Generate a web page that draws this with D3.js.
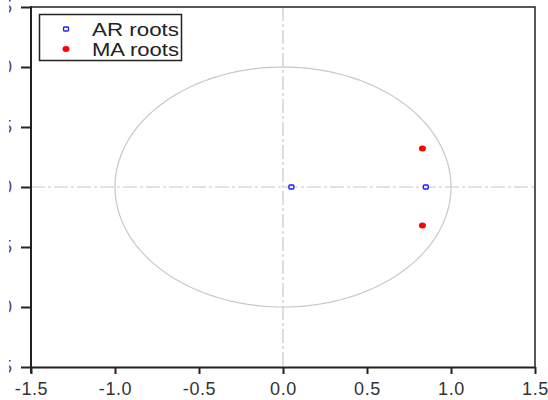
<!DOCTYPE html>
<html>
<head>
<meta charset="utf-8">
<script src="https://cdn.jsdelivr.net/npm/d3@7"></script>
<style>
  body { margin: 0; background: #fff; }
  svg { display: block; font-family: "Liberation Sans", Arial, sans-serif; }
</style>
</head>
<body>
<div id="chart"></div>
<script>
// roots
var arRe = [0.05, 0.85],
    arIm = [0.0, 0.0];
var maRe = [0.83, 0.83],
    maIm = [0.32, -0.32];
var xTicks = [-1.5, -1.0, -0.5, 0.0, 0.5, 1.0, 1.5],
    yTicks = [-1.5, -1.0, -0.5, 0.0, 0.5, 1.0, 1.5];
var legendLabels = ["AR roots", "MA roots"];

var width = 548, height = 400;
var margin = {top: 7, right: 13, bottom: 33, left: 31};

var svg = d3.select("#chart").append("svg")
    .attr("width", width)
    .attr("height", height);

var x = d3.scaleLinear().domain([-1.5, 1.5]).range([margin.left, width - margin.right]);
var y = d3.scaleLinear().domain([-1.5, 1.5]).range([height - margin.bottom, margin.top]);

// the y labels sit mostly off the left edge, only a sliver shows
svg.append("clipPath")
    .attr("id", "yclip")
    .append("rect")
    .attr("x", 9).attr("y", 0)
    .attr("width", width).attr("height", height);

// unit circle
var circle = d3.range(0, 361, 2).map(function(a) {
    var t = a * Math.PI / 180;
    return [Math.cos(t), Math.sin(t)];
});
svg.append("path")
    .datum(circle)
    .attr("d", d3.line().x(function(d) { return x(d[0]); }).y(function(d) { return y(d[1]); }))
    .attr("fill", "none")
    .attr("stroke", "#c8c8c8")
    .attr("stroke-width", 1.2);

// zero lines (dash-dot)
svg.append("line")
    .attr("x1", x(0)).attr("x2", x(0))
    .attr("y1", y(1.5)).attr("y2", y(-1.5))
    .attr("stroke", "#c8c8c8").attr("stroke-width", 1.2)
    .attr("stroke-dasharray", "14,3,3,3");
svg.append("line")
    .attr("x1", x(-1.5)).attr("x2", x(1.5))
    .attr("y1", y(0)).attr("y2", y(0))
    .attr("stroke", "#c8c8c8").attr("stroke-width", 1.2)
    .attr("stroke-dasharray", "14,3,3,3");

// frame: top and right
svg.append("path")
    .attr("d", "M" + x(-1.5) + "," + y(1.5) + "H" + x(1.5) + "V" + y(-1.5))
    .attr("fill", "none")
    .attr("stroke", "#222")
    .attr("stroke-width", 1.5);

// bottom axis
var xAxis = svg.append("g")
    .attr("transform", "translate(0," + y(-1.5) + ")")
    .call(d3.axisBottom(x).tickValues(xTicks).tickSize(7).tickSizeOuter(0)
        .tickFormat(d3.format(".1f")));
xAxis.select(".domain").attr("stroke", "#222").attr("stroke-width", 2);
xAxis.selectAll(".tick line").attr("stroke", "#222").attr("stroke-width", 2);
xAxis.selectAll(".tick text")
    .attr("y", 15)
    .attr("fill", "#333")
    .style("font-size", "18px")
    .style("letter-spacing", "0.6px")
    .style("font-family", "Liberation Sans, Arial, sans-serif")
    .text(function(d) { return d3.format(".1f")(d).replace("\u2212", "-"); });

// left axis
var yAxis = svg.append("g")
    .attr("transform", "translate(" + x(-1.5) + ",0)")
    .call(d3.axisLeft(y).tickValues(yTicks).tickSize(10).tickSizeOuter(0)
        .tickFormat(d3.format(".1f")));
yAxis.select(".domain").attr("stroke", "#222").attr("stroke-width", 2)
    .attr("d", "M0," + (y(1.5) - 1) + "V" + (y(-1.5) + 6));
yAxis.selectAll(".tick line").attr("stroke", "#222").attr("stroke-width", 2);
// clip is in svg coords, so move the labels out of the translated group
yAxis.selectAll(".tick text").each(function(d) {
    var t = d3.select(this);
    svg.append("text")
        .attr("x", 12)
        .attr("y", y(d))
        .attr("dy", "0.32em")
        .attr("text-anchor", "end")
        .attr("clip-path", "url(#yclip)")
        .attr("fill", "#5a4a6a")
        .style("font-size", "18px")
        .text(t.text());
    t.remove();
});

// AR roots: hollow blue
svg.selectAll(".ar")
    .data(arRe)
    .enter().append("rect")
    .attr("class", "ar")
    .attr("x", function(d) { return x(d) - 2.5; })
    .attr("y", function(d, i) { return y(arIm[i]) - 2; })
    .attr("width", 5).attr("height", 4)
    .attr("rx", 1)
    .attr("fill", "none")
    .attr("stroke", "#1a1aff")
    .attr("stroke-width", 1.3);

// MA roots: filled red
svg.selectAll(".ma")
    .data(maRe)
    .enter().append("ellipse")
    .attr("class", "ma")
    .attr("cx", function(d) { return x(d); })
    .attr("cy", function(d, i) { return y(maIm[i]); })
    .attr("rx", 3.5).attr("ry", 3)
    .attr("fill", "#ff0000");

// legend
var legend = svg.append("g");
legend.append("rect")
    .attr("x", 39.5).attr("y", 14.5)
    .attr("width", 142).attr("height", 46)
    .attr("fill", "#fff")
    .attr("stroke", "#222")
    .attr("stroke-width", 1.5);
legend.append("rect")
    .attr("x", 63.5).attr("y", 27)
    .attr("width", 5).attr("height", 4).attr("rx", 1)
    .attr("fill", "none").attr("stroke", "#1a1aff").attr("stroke-width", 1.3);
legend.append("ellipse")
    .attr("cx", 66).attr("cy", 49)
    .attr("rx", 3.5).attr("ry", 3)
    .attr("fill", "#ff0000");
legend.selectAll(".lbl")
    .data(legendLabels)
    .enter().append("text")
    .attr("class", "lbl")
    .attr("x", 92)
    .attr("y", function(d, i) { return 36 + i * 20; })
    .attr("textLength", 87)
    .attr("lengthAdjust", "spacingAndGlyphs")
    .attr("fill", "#222")
    .style("font-size", "18px")
    .text(function(d) { return d; });
</script>
</body>
</html>
